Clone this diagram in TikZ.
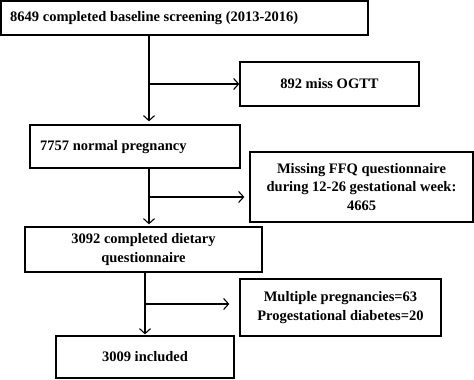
\documentclass[tikz,border=0pt]{standalone}
\usepackage{fontspec}
\setmainfont{Liberation Serif}
\usetikzlibrary{arrows.meta}
\begin{document}
\begin{tikzpicture}[x=1pt,y=-1pt,
  txt/.style={font=\bfseries\fontsize{14.5}{18.8}\selectfont},
  box/.style={draw,line width=1.3pt,rectangle,inner xsep=0pt,inner ysep=0pt,txt},
  conn/.style={line width=1.1pt,-{Straight Barb[length=5pt,width=11pt,line width=1.1pt]}}]
\useasboundingbox (0,0) rectangle (474,380);
\node[box,minimum width=367pt,minimum height=34pt] (b1) at (184.5,18) {};
\node[txt,anchor=west,inner sep=0pt] (t1) at (10,18) {8649 completed baseline screening (2013-2016)};
\node[box,minimum width=179pt,minimum height=44pt,align=center] (ogtt) at (329.5,84) {892 miss OGTT};
\node[box,minimum width=210pt,minimum height=43pt] (b2) at (135,146.5) {};
\node[txt,anchor=west,inner sep=0pt] (t2) at (40,147) {7757 normal pregnancy};
\node[box,minimum width=223pt,minimum height=70pt,align=center] (ffq) at (361.5,187) {Missing FFQ questionnaire\\during 12-26 gestational week:\\4665};
\node[box,minimum width=237pt,minimum height=45pt,align=center] (b3) at (143.5,249.5) {3092 completed dietary\\questionnaire};
\node[box,minimum width=201pt,minimum height=57pt,align=center] (mult) at (340.5,307.5) {Multiple pregnancies=63\\Progestational diabetes=20};
\node[box,minimum width=178pt,minimum height=42pt,align=center] (b4) at (145,357) {3009 included};
\coordinate (j1) at (149,84);
\coordinate (j2) at (149,197);
\coordinate (j3) at (145,304);
\draw[conn,shorten >=3pt] (b1.south -| j1) -- (b2.north -| j1);
\draw[conn] (j1) -- (j1 -| ogtt.west);
\draw[conn,shorten >=2pt] (b2.south -| j2) -- (b3.north -| j2);
\draw[conn,shorten >=5pt] (j2) -- (j2 -| ffq.west);
\draw[conn,shorten >=1pt] (b3.south -| j3) -- (b4.north -| j3);
\draw[conn,shorten >=10pt] (j3) -- (j3 -| mult.west);
\end{tikzpicture}
\end{document}
